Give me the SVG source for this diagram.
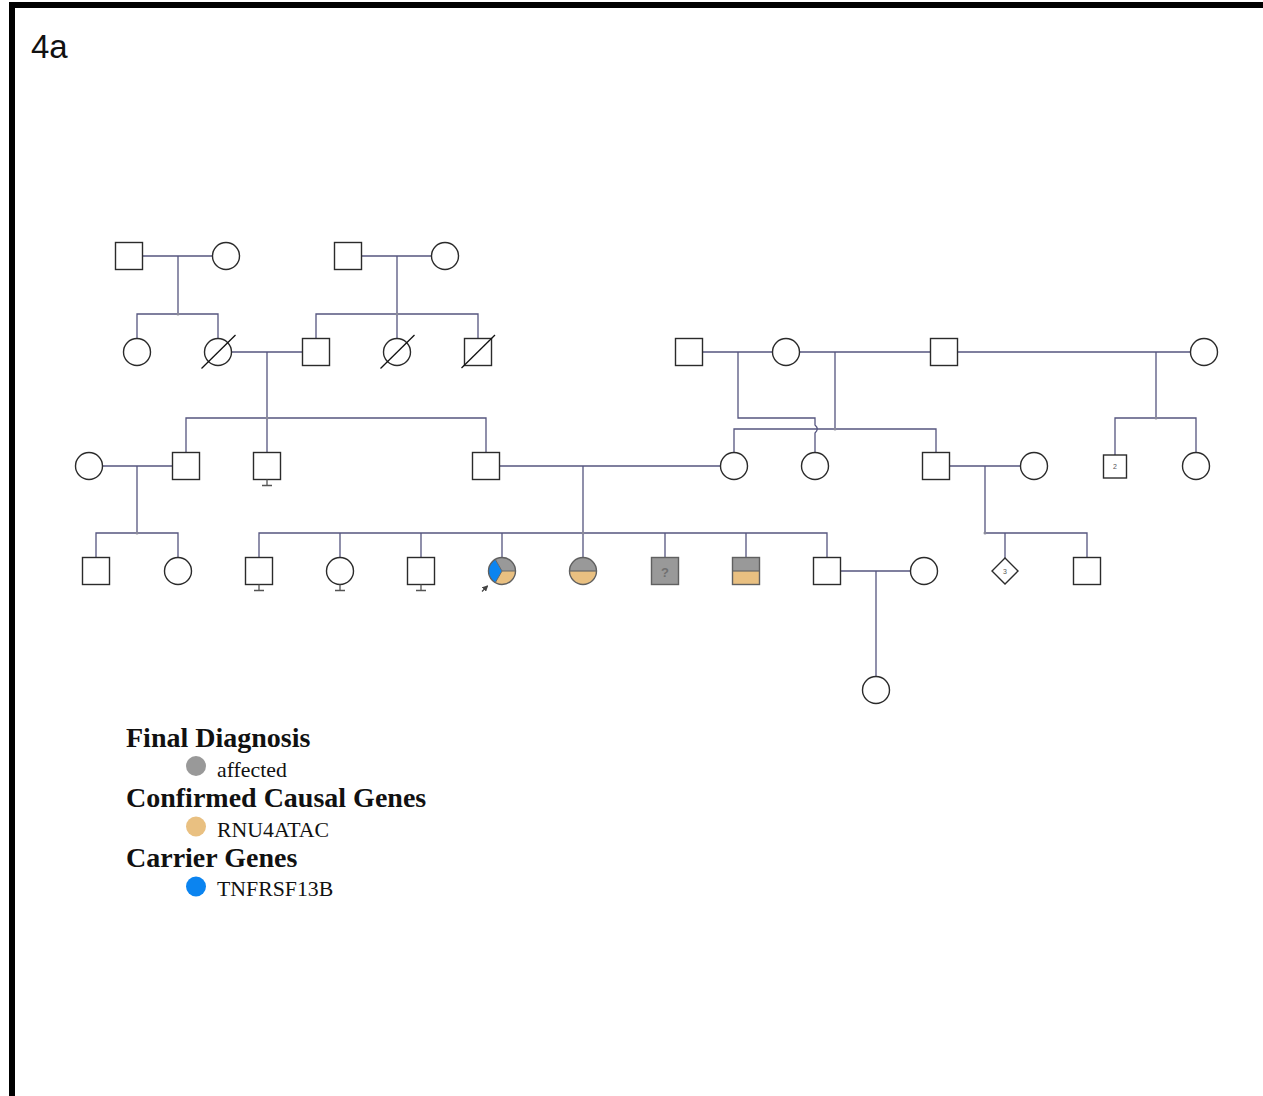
<svg xmlns="http://www.w3.org/2000/svg" width="1263" height="1096" viewBox="0 0 1263 1096">
<style>
.ln{stroke:#55557f;stroke-width:1.3;fill:none}
.nd{fill:#fff;stroke:#2b2b2b;stroke-width:1.4}
.af{stroke:#606060;stroke-width:1.4}
.dec{stroke:#111;stroke-width:1.3;fill:none}
.tm{stroke:#555;stroke-width:1.3;fill:none}
.dot{fill:#8a8a9a}
.lt{font-family:"Liberation Serif","Times New Roman",serif;fill:#111}
.hd{font-size:28px;font-weight:bold}
.it{font-size:21.8px}
.sm{font-family:"Liberation Sans",Arial,sans-serif;font-size:7px;fill:#555;text-anchor:middle}
</style>
<defs>
<rect id="sq" x="-13.5" y="-13.5" width="27" height="27"/>
<circle id="ci" r="13.5"/>
<marker id="ah" markerWidth="6" markerHeight="6" refX="5" refY="3" orient="auto" markerUnits="userSpaceOnUse"><path d="M0,0 L6,3 L0,6 Z" fill="#444"/></marker>
</defs>
<rect x="0" y="0" width="1263" height="1096" fill="#fff"/>
<rect x="12" y="5" width="1300" height="1200" fill="none" stroke="#000" stroke-width="6"/>
<text x="31" y="58" font-family="Liberation Sans,Arial,sans-serif" font-size="33" fill="#111">4a</text>

<g id="connectors">
<path class="ln" d="M142.5,256 H212.5 M178,256 V314 M137,338.5 V314 H218 V338.5"/>
<path class="ln" d="M361.5,256 H431.5 M397,256 V338.5 M316,338.5 V314 H478 V338.5"/>
<path class="ln" d="M231.5,352 H302.5 M267,352 V452.5 M186,452.5 V418 H486 V452.5"/>
<path class="ln" d="M702.5,352 H772.5 M738,352 V418 H815 V425 Q819.5,429 815,433 V452.5"/>
<path class="ln" d="M799.5,352 H930.5 M835,352 V429 M734,452.5 V429 H936 V452.5"/>
<path class="ln" d="M957.5,352 H1190.5 M1156,352 V418 M1115,455 V418 H1196 V452.5"/>
<path class="ln" d="M102.5,466 H172.5 M137,466 V533 M96,557.5 V533 H178 V557.5"/>
<path class="ln" d="M499.5,466 H720.5 M583,466 V557.5 M259,557.5 V533 H827 V557.5 M340,533 V557.5 M421,533 V557.5 M502,533 V557.5 M665,533 V557.5 M746,533 V557.5"/>
<path class="ln" d="M949.5,466 H1020.5 M985,466 V533 H1087 V557.5 M1005,533 V558"/>
<path class="ln" d="M840.5,571 H910.5 M876,571 V676.5"/>
<circle class="dot" cx="178" cy="314" r="1.5"/>
<circle class="dot" cx="397" cy="314" r="1.5"/>
<circle class="dot" cx="267" cy="418" r="1.5"/>
<circle class="dot" cx="835" cy="429" r="1.5"/>
<circle class="dot" cx="1156" cy="418" r="1.5"/>
<circle class="dot" cx="137" cy="533" r="1.5"/>
<circle class="dot" cx="583" cy="533" r="1.5"/>
<circle class="dot" cx="985" cy="533" r="1.5"/>
</g>

<g id="n_g1_m1"><use href="#sq" x="129" y="256" class="nd"/></g>
<g id="n_g1_f1"><use href="#ci" x="226" y="256" class="nd"/></g>
<g id="n_g1_m2"><use href="#sq" x="348" y="256" class="nd"/></g>
<g id="n_g1_f2"><use href="#ci" x="445" y="256" class="nd"/></g>

<g id="n_g2_a"><use href="#ci" x="137" y="352" class="nd"/></g>
<g id="n_g2_b"><use href="#ci" x="218" y="352" class="nd"/><line class="dec" x1="201.5" y1="368.5" x2="235.5" y2="335"/></g>
<g id="n_g2_c"><use href="#sq" x="316" y="352" class="nd"/></g>
<g id="n_g2_d"><use href="#ci" x="397" y="352" class="nd"/><line class="dec" x1="380.5" y1="368.5" x2="414.5" y2="335"/></g>
<g id="n_g2_e"><use href="#sq" x="478" y="352" class="nd"/><line class="dec" x1="461.5" y1="368" x2="495" y2="335"/></g>
<g id="n_g2_f"><use href="#sq" x="689" y="352" class="nd"/></g>
<g id="n_g2_g"><use href="#ci" x="786" y="352" class="nd"/></g>
<g id="n_g2_h"><use href="#sq" x="944" y="352" class="nd"/></g>
<g id="n_g2_i"><use href="#ci" x="1204" y="352" class="nd"/></g>

<g id="n_g3_a"><use href="#ci" x="89" y="466" class="nd"/></g>
<g id="n_g3_b"><use href="#sq" x="186" y="466" class="nd"/></g>
<g id="n_g3_c"><use href="#sq" x="267" y="466" class="nd"/><path class="tm" d="M267,479.5 V485.5 M262,485.5 H272"/></g>
<g id="n_g3_d"><use href="#sq" x="486" y="466" class="nd"/></g>
<g id="n_g3_e"><use href="#ci" x="734" y="466" class="nd"/></g>
<g id="n_g3_f"><use href="#ci" x="815" y="466" class="nd"/></g>
<g id="n_g3_g"><use href="#sq" x="936" y="466" class="nd"/></g>
<g id="n_g3_h"><use href="#ci" x="1034" y="466" class="nd"/></g>
<g id="n_g3_i"><rect x="1103.5" y="455" width="23" height="23" class="nd"/><text class="sm" x="1115" y="469">2</text></g>
<g id="n_g3_j"><use href="#ci" x="1196" y="466" class="nd"/></g>

<g id="n_g4_a"><use href="#sq" x="96" y="571" class="nd"/></g>
<g id="n_g4_b"><use href="#ci" x="178" y="571" class="nd"/></g>
<g id="n_g4_c"><use href="#sq" x="259" y="571" class="nd"/><path class="tm" d="M259,584.5 V590.5 M254,590.5 H264"/></g>
<g id="n_g4_d"><use href="#ci" x="340" y="571" class="nd"/><path class="tm" d="M340,584.5 V590.5 M335,590.5 H345"/></g>
<g id="n_g4_e"><use href="#sq" x="421" y="571" class="nd"/><path class="tm" d="M421,584.5 V590.5 M416,590.5 H426"/></g>
<g id="n_g4_proband">
<path d="M502,571 L495.25,559.31 A13.5,13.5 0 0 1 515.5,571 Z" fill="#999"/>
<path d="M502,571 L515.5,571 A13.5,13.5 0 0 1 495.25,582.69 Z" fill="#e9c081"/>
<path d="M502,571 L495.25,582.69 A13.5,13.5 0 0 1 495.25,559.31 Z" fill="#0b84f0"/>
<path d="M495.25,559.31 L502,571 L495.25,582.69 M502,571 H515.5" stroke="#666" stroke-width="1" fill="none"/>
<circle cx="502" cy="571" r="13.5" fill="none" class="af"/>
<line x1="482" y1="591.5" x2="487.5" y2="586" stroke="#444" stroke-width="1.3" marker-end="url(#ah)"/>
</g>
<g id="n_g4_f">
<path d="M569.5,571 A13.5,13.5 0 0 1 596.5,571 Z" fill="#999"/>
<path d="M569.5,571 A13.5,13.5 0 0 0 596.5,571 Z" fill="#e9c081"/>
<line x1="569.5" y1="571" x2="596.5" y2="571" stroke="#666" stroke-width="1.2"/>
<circle cx="583" cy="571" r="13.5" fill="none" class="af"/>
</g>
<g id="n_g4_g"><rect x="651.5" y="557.5" width="27" height="27" fill="#999" class="af"/><text x="665" y="576.5" font-family="Liberation Sans,Arial,sans-serif" font-size="13" font-weight="bold" fill="#707070" text-anchor="middle">?</text></g>
<g id="n_g4_h"><rect x="732.5" y="557.5" width="27" height="13.5" fill="#999"/><rect x="732.5" y="571" width="27" height="13.5" fill="#e9c081"/><line x1="732.5" y1="571" x2="759.5" y2="571" stroke="#666" stroke-width="1.2"/><rect x="732.5" y="557.5" width="27" height="27" fill="none" class="af"/></g>
<g id="n_g4_i"><use href="#sq" x="827" y="571" class="nd"/></g>
<g id="n_g4_j"><use href="#ci" x="924" y="571" class="nd"/></g>
<g id="n_g4_k"><polygon points="1005,558 1018,571 1005,584 992,571" class="nd"/><text class="sm" x="1005" y="573.5">3</text></g>
<g id="n_g4_l"><use href="#sq" x="1087" y="571" class="nd"/></g>

<g id="n_g5_a"><use href="#ci" x="876" y="690" class="nd"/></g>

<g id="legend">
<text class="lt hd" x="126" y="747">Final Diagnosis</text>
<circle cx="196" cy="766" r="10" fill="#999"/>
<text class="lt it" x="217" y="776.5">affected</text>
<text class="lt hd" x="126" y="807">Confirmed Causal Genes</text>
<circle cx="196" cy="826.5" r="10" fill="#e9c081"/>
<text class="lt it" x="217" y="836.5">RNU4ATAC</text>
<text class="lt hd" x="126" y="867">Carrier Genes</text>
<circle cx="196" cy="886.5" r="10" fill="#0b84f0"/>
<text class="lt it" x="217" y="896">TNFRSF13B</text>
</g>
</svg>
